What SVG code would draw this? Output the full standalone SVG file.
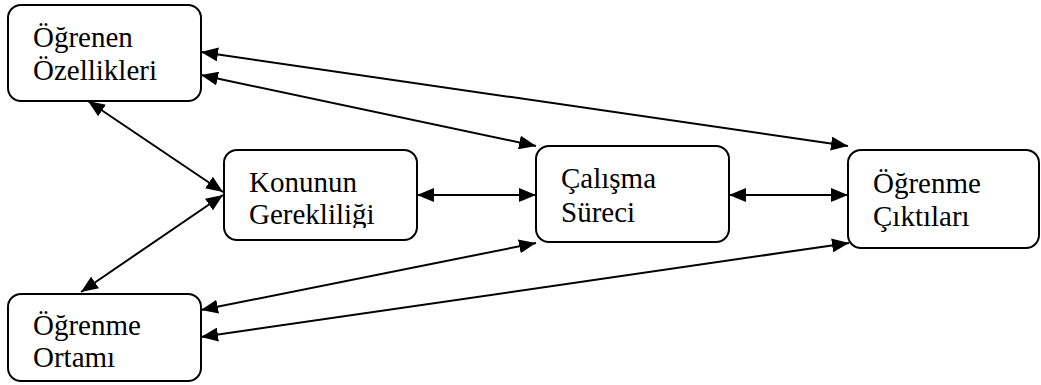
<svg xmlns="http://www.w3.org/2000/svg" width="1041" height="385" viewBox="0 0 1041 385">
  <style>
    .box { fill: #fff; stroke: #000; stroke-width: 2; }
    .link { stroke: #000; stroke-width: 2; fill: none; marker-start: url(#ah); marker-end: url(#ah); }
    .lbl { fill: #000; font-size: 29px; }
  </style>
  <defs>
    <marker id="ah" markerUnits="userSpaceOnUse" markerWidth="18" markerHeight="14" refX="17" refY="7" orient="auto-start-reverse">
      <path d="M0,0 L17,7 L0,14 z" fill="#000"/>
    </marker>
    <clipPath id="clipK"><rect x="224" y="150" width="193" height="78"/></clipPath>
  </defs>
  <rect width="1041" height="385" fill="#fff"/>

  <!-- two-way links between the blocks -->
  <g id="connectors">
    <line class="link" x1="201" y1="52" x2="848" y2="146"/>
    <line class="link" x1="201" y1="75" x2="536" y2="146"/>
    <line class="link" x1="88" y1="101" x2="223" y2="192"/>
    <line class="link" x1="81" y1="292" x2="223" y2="195"/>
    <line class="link" x1="417" y1="195" x2="536" y2="195"/>
    <line class="link" x1="729" y1="195" x2="848" y2="195"/>
    <line class="link" x1="201" y1="310" x2="536" y2="243"/>
    <line class="link" x1="201" y1="337" x2="849" y2="243"/>
  </g>

  <g id="ogrenen-ozellikleri">
    <rect class="box" x="8" y="5" width="193" height="96" rx="13"/>
    <text class="lbl" x="33" y="47" style="font-family: 'Liberation Serif', serif !important">Öğrenen</text>
    <text class="lbl" x="33" y="80" style="font-family: 'Liberation Serif', serif !important">Özellikleri</text>
  </g>

  <g id="konunun-gerekliligi">
    <rect class="box" x="224" y="150" width="193" height="90" rx="13"/>
    <g clip-path="url(#clipK)">
      <text class="lbl" x="249" y="192" style="font-family: 'Liberation Serif', serif !important">Konunun</text>
      <text class="lbl" x="249" y="224" style="font-family: 'Liberation Serif', serif !important">Gerekliliği</text>
    </g>
  </g>

  <g id="calisma-sureci">
    <rect class="box" x="536" y="146" width="193" height="96" rx="13"/>
    <text class="lbl" x="561" y="188" style="font-family: 'Liberation Serif', serif !important">Çalışma</text>
    <text class="lbl" x="561" y="222" style="font-family: 'Liberation Serif', serif !important">Süreci</text>
  </g>

  <g id="ogrenme-ciktilari">
    <rect class="box" x="848" y="150" width="191" height="98" rx="13"/>
    <text class="lbl" x="873" y="193" style="font-family: 'Liberation Serif', serif !important">Öğrenme</text>
    <text class="lbl" x="873" y="226" style="font-family: 'Liberation Serif', serif !important">Çıktıları</text>
  </g>

  <g id="ogrenme-ortami">
    <rect class="box" x="8" y="294" width="193" height="87" rx="13"/>
    <text class="lbl" x="33" y="335" style="font-family: 'Liberation Serif', serif !important">Öğrenme</text>
    <text class="lbl" x="33" y="367" style="font-family: 'Liberation Serif', serif !important">Ortamı</text>
  </g>
</svg>
